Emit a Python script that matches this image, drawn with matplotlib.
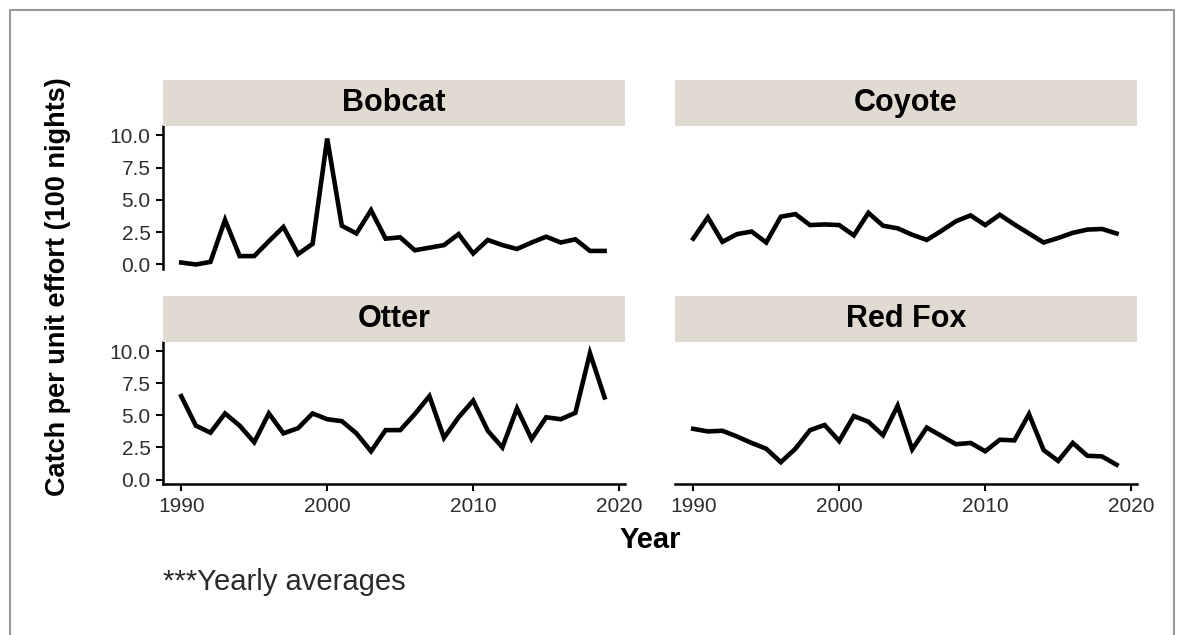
import matplotlib.pyplot as plt
from matplotlib.patches import Rectangle
from matplotlib.ticker import FormatStrFormatter

plt.rcParams["font.family"] = ["Liberation Sans", "DejaVu Sans"]

years = list(range(1990, 2020))

bobcat = [0.15, 0.0, 0.2, 3.45, 0.65, 0.65, 1.8, 2.9, 0.8, 1.6,
          9.75, 3.0, 2.4, 4.2, 2.0, 2.1, 1.1, 1.3, 1.5, 2.35,
          0.85, 1.9, 1.5, 1.2, 1.7, 2.15, 1.7, 1.95, 1.05, 1.05]
coyote = [2.0, 3.65, 1.75, 2.35, 2.55, 1.7, 3.7, 3.9, 3.05, 3.1,
          3.05, 2.25, 4.0, 3.0, 2.8, 2.3, 1.9, 2.6, 3.35, 3.8,
          3.05, 3.85, 3.1, 2.4, 1.7, 2.05, 2.45, 2.7, 2.75, 2.4]
otter = [6.5, 4.2, 3.65, 5.15, 4.2, 2.9, 5.15, 3.6, 4.0, 5.15,
         4.7, 4.55, 3.6, 2.2, 3.85, 3.85, 5.1, 6.5, 3.25, 4.85,
         6.15, 3.8, 2.5, 5.55, 3.15, 4.85, 4.7, 5.2, 9.85, 6.4]
red_fox = [3.95, 3.75, 3.8, 3.35, 2.85, 2.4, 1.35, 2.4, 3.85, 4.25,
           3.0, 4.95, 4.5, 3.45, 5.75, 2.35, 4.05, 3.4, 2.75, 2.85,
           2.2, 3.1, 3.05, 5.1, 2.3, 1.45, 2.85, 1.85, 1.8, 1.15]

panel_names = ["Bobcat", "Coyote", "Otter", "Red Fox"]
x_ticks = [1990, 2000, 2010, 2020]
y_ticks = [0.0, 2.5, 5.0, 7.5, 10.0]

W, H = 1182, 635
STRIP_COLOR = "#e0dad1"
TICK_COLOR = "#2e2e2e"


def _frac(x0, y0, x1, y1):
    # pixel box (top-left origin) -> figure fraction rect
    return [x0 / W, 1 - y1 / H, (x1 - x0) / W, (y1 - y0) / H]


def _draw_panel(fig, box, title, values, left_axis, bottom_axis):
    ax = fig.add_axes(_frac(*box))
    ax.plot(years, values, color="black", lw=3.3, solid_joinstyle="miter")
    ax.set_xlim(1988.75, 2020.4)
    ax.set_ylim(-0.35, 10.72)

    ax.spines["top"].set_visible(False)
    ax.spines["right"].set_visible(False)
    for side in ["left", "bottom"]:
        ax.spines[side].set_linewidth(1.8)
    ax.spines["left"].set_visible(left_axis)
    ax.spines["bottom"].set_visible(bottom_axis)

    ax.set_xticks(x_ticks)
    ax.set_yticks(y_ticks)
    ax.yaxis.set_major_formatter(FormatStrFormatter("%.1f"))
    ax.tick_params(direction="out", length=5, width=1.5, labelsize=15,
                   labelcolor=TICK_COLOR, pad=4)
    if not left_axis:
        ax.tick_params(axis="y", left=False, labelleft=False)
    if not bottom_axis:
        ax.tick_params(axis="x", bottom=False, labelbottom=False)

    # facet strip above the panel
    x0, y0, x1, y1 = box
    strip = fig.add_axes(_frac(x0, y0 - 46, x1, y0))
    strip.add_patch(Rectangle((0, 0), 1, 1, color=STRIP_COLOR))
    strip.set_xlim(0, 1)
    strip.set_ylim(0, 1)
    strip.axis("off")
    strip.text(0.5, 0.5, title, ha="center", va="center", fontsize=22,
               fontweight="bold", color="black")
    return ax


def create_plot():
    fig = plt.figure(figsize=(W / 100, H / 100), dpi=100)

    # thin gray frame around the figure (bottom edge is cropped away)
    fig.add_artist(plt.Line2D([10 / W, 10 / W, 1174 / W, 1174 / W],
                              [0, 1 - 9.5 / H, 1 - 9.5 / H, 0],
                              transform=fig.transFigure, color="#9a9a9a", lw=1.5))

    top = (126, 269)
    bottom = (342, 484)
    left = (163, 625)
    right = (675, 1137)

    _draw_panel(fig, (left[0], top[0], left[1], top[1]), panel_names[0], bobcat, True, False)
    _draw_panel(fig, (right[0], top[0], right[1], top[1]), panel_names[1], coyote, False, False)
    _draw_panel(fig, (left[0], bottom[0], left[1], bottom[1]), panel_names[2], otter, True, True)
    _draw_panel(fig, (right[0], bottom[0], right[1], bottom[1]), panel_names[3], red_fox, False, True)

    fig.text(58 / W, 1 - 287 / H, "Catch per unit effort (100 nights)", rotation=90,
             ha="center", va="center", fontsize=19.5, fontweight="bold")
    fig.text(650 / W, 1 - 540 / H, "Year", ha="center", va="center",
             fontsize=21, fontweight="bold")
    fig.text(163 / W, 1 - 582 / H, "***Yearly averages", ha="left", va="center",
             fontsize=21, color="#2a2a2a")

    fig.savefig("out.png", dpi=100)


if __name__ == "__main__":
    create_plot()
